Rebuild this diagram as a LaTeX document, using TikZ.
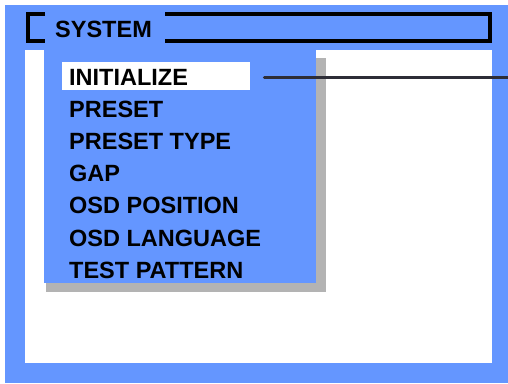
\documentclass[tikz,border=0pt]{standalone}
\usepackage{fontspec}
\setmainfont{Liberation Sans}
\usetikzlibrary{positioning}

\definecolor{osdblue}{RGB}{100,150,255}
\definecolor{osdshade}{RGB}{179,179,179}
\definecolor{osdline}{RGB}{45,45,55}

\tikzset{
  menutext/.style={font=\fontsize{23.5}{26}\bfseries\selectfont,text=black,inner sep=0pt,anchor=base west},
  framepen/.style={black,line width=3.5pt},
}

\begin{document}
\begin{tikzpicture}[x=1pt,y=-1pt]
\useasboundingbox (0,0) rectangle (508,383);
\fill[white] (0,0) rectangle (508,383);
% screen border and inner area
\fill[osdblue] (5,5) rectangle (508,383);
\fill[white] (25,50) rectangle (492,363);

% title bar
\draw[framepen] (45,14) -- (28,14) -- (28,41) -- (45,41);
\node[menutext] (title) at (55,37) {SYSTEM};
\draw[framepen] (165,14) -- (490,14) -- (490,41) -- (165,41);

% menu panel with its shadow
\fill[osdshade] (46,58) rectangle (326,292);
\fill[osdblue] (44,50) rectangle (316,283);
\node[fill=white,inner sep=0pt,minimum width=188pt,minimum height=28pt,anchor=north west] (hl) at (62,62) {};

\foreach \label [count=\i] in {INITIALIZE,PRESET,PRESET TYPE,GAP,OSD POSITION,OSD LANGUAGE,TEST PATTERN}
  \node[menutext] (item\i) at (69,{85+32.2*(\i-1)}) {\label};

% pointer to the selected entry
\coordinate (pointer) at (508,77);
\draw[osdline,line width=3pt,line cap=round] ([xshift=14pt]hl.east |- pointer) -- (pointer);
\end{tikzpicture}
\end{document}
